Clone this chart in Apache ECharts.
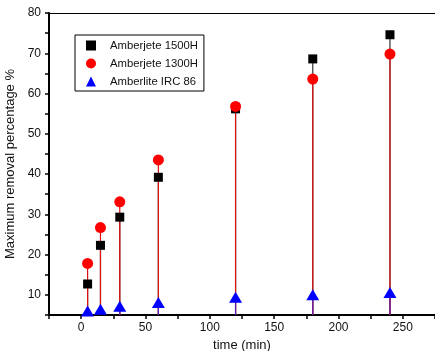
<!DOCTYPE html>
<html>
<head>
<meta charset="utf-8">
<script src="https://cdn.jsdelivr.net/npm/echarts@6/dist/echarts.min.js"></script>
<style>html,body{margin:0;padding:0;background:#fff}#c{width:435px;height:351px}</style>
</head>
<body>
<div id="c"></div>
<script>
const times = [5, 15, 30, 60, 120, 180, 240];
const amberjete1500H = [12.7, 22.3, 29.3, 39.2, 56.2, 68.6, 74.6];
const amberjete1300H = [17.8, 26.7, 33.1, 43.5, 56.8, 63.6, 69.8];
const amberliteIRC86 = [6.0, 6.4, 7.2, 8.1, 9.4, 10.0, 10.6];
const seriesNames = ['Amberjete 1500H', 'Amberjete 1300H', 'Amberlite IRC 86'];
const xLabel = 'time (min)';
const yLabel = 'Maximum removal percentage %';

const FONT = 'Liberation Sans, Arial, sans-serif';
function pairs(vals) { return times.map((t, i) => [t, vals[i]]); }

function stemSeries(vals, color, z) {
  return {
    type: 'custom',
    silent: true,
    z: z,
    data: pairs(vals),
    renderItem: function (params, api) {
      const p = api.coord([api.value(0), api.value(1)]);
      const bottom = params.coordSys.y + params.coordSys.height;
      return {
        type: 'line',
        shape: { x1: p[0], y1: p[1], x2: p[0], y2: bottom },
        style: { stroke: color, lineWidth: 1.2 }
      };
    }
  };
}

const chart = echarts.init(document.getElementById('c'), null, { renderer: 'canvas' });
chart.setOption({
  animation: false,
  backgroundColor: '#fff',
  textStyle: { fontFamily: FONT },
  grid: { left: 49, right: 0, top: 13, bottom: 36, containLabel: false, outerBoundsMode: 'none' },
  legend: {
    orient: 'vertical',
    left: 75, top: 35,
    padding: [5, 6, 4, 11],
    itemWidth: 10, itemHeight: 10, itemGap: 7,
    borderColor: '#000', borderWidth: 1, borderRadius: 0,
    textStyle: { fontFamily: FONT, fontSize: 11.3, color: '#111', padding: [0, 0, 0, 9] },
    data: [
      { name: seriesNames[0], icon: 'rect' },
      { name: seriesNames[1], icon: 'circle' },
      { name: seriesNames[2], icon: 'triangle' }
    ]
  },
  xAxis: [{
    type: 'value', min: -25, max: 275, interval: 25, position: 'bottom',
    name: xLabel, nameLocation: 'middle', nameGap: 24,
    nameTextStyle: { fontFamily: FONT, fontSize: 13, color: '#111' },
    axisLine: { onZero: false, lineStyle: { color: '#000', width: 2 } },
    axisTick: { inside: false, length: 4, lineStyle: { color: '#000', width: 1.5 } },
    axisLabel: { margin: 7, fontFamily: FONT, fontSize: 12, color: '#111',
      formatter: v => (v % 50 === 0 ? String(v) : '') },
    splitLine: { show: false }
  }, {
    type: 'value', min: -25, max: 275, position: 'top',
    axisLine: { show: true, onZero: false, lineStyle: { color: '#000', width: 1.2 } },
    axisTick: { show: false }, axisLabel: { show: false }, splitLine: { show: false }
  }],
  yAxis: {
    type: 'value', min: 5, max: 80, interval: 5,
    name: yLabel, nameLocation: 'middle', nameGap: 29,
    nameTextStyle: { fontFamily: FONT, fontSize: 13, color: '#111' },
    axisLine: { show: true, onZero: false, lineStyle: { color: '#000', width: 2 } },
    axisTick: { inside: false, length: 4, lineStyle: { color: '#000', width: 1.5 } },
    axisLabel: { margin: 8, fontFamily: FONT, fontSize: 12, color: '#111',
      formatter: v => (v % 10 === 0 ? String(v) : '') },
    splitLine: { show: false }
  },
  series: [
    stemSeries(amberjete1500H, '#333', 1),
    stemSeries(amberjete1300H, '#e01010', 2),
    stemSeries(amberliteIRC86, '#5a20b8', 3),
    { type: 'scatter', name: seriesNames[0], data: pairs(amberjete1500H), symbol: 'rect', symbolSize: 9,
      itemStyle: { color: '#000', opacity: 1 }, z: 4 },
    { type: 'scatter', name: seriesNames[1], data: pairs(amberjete1300H), symbol: 'circle', symbolSize: 11,
      itemStyle: { color: '#ff0000', opacity: 1 }, z: 5 },
    { type: 'scatter', name: seriesNames[2], data: pairs(amberliteIRC86), symbol: 'triangle', symbolSize: [13, 11],
      itemStyle: { color: '#0000ff', opacity: 1 }, z: 6, clip: false }
  ]
});
</script>
</body>
</html>
